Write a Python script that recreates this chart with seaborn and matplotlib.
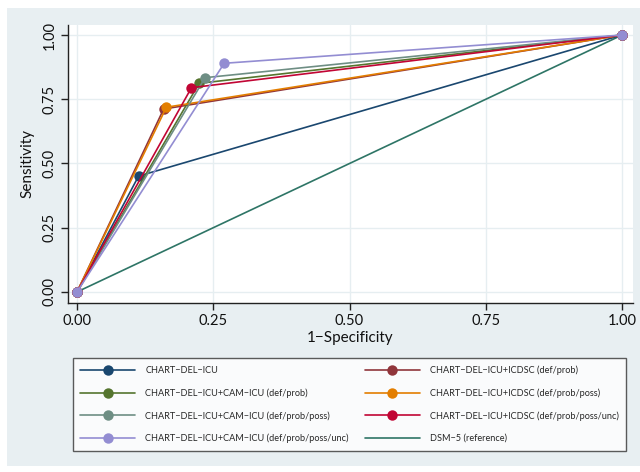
import matplotlib
matplotlib.use("Agg")
import matplotlib.pyplot as plt
import seaborn as sns
import pandas as pd
from matplotlib.patches import Rectangle
from matplotlib.lines import Line2D

labels = [
    "CHART\u2212DEL\u2212ICU",
    "CHART\u2212DEL\u2212ICU+ICDSC (def/prob)",
    "CHART\u2212DEL\u2212ICU+CAM\u2212ICU (def/prob)",
    "CHART\u2212DEL\u2212ICU+ICDSC (def/prob/poss)",
    "CHART\u2212DEL\u2212ICU+CAM\u2212ICU (def/prob/poss)",
    "CHART\u2212DEL\u2212ICU+ICDSC (def/prob/poss/unc)",
    "CHART\u2212DEL\u2212ICU+CAM\u2212ICU (def/prob/poss/unc)",
]
fpr = [0.113, 0.159, 0.224, 0.164, 0.235, 0.210, 0.270]
sens = [0.451, 0.712, 0.812, 0.719, 0.834, 0.795, 0.890]
colors = ["#1a476f", "#90353b", "#55752f", "#e37e00", "#6e8e84", "#c10534", "#938dd2"]
ref_label = "DSM\u22125 (reference)"
ref_color = "#2e7566"
ref_x = [0.0, 1.0]
ref_y = [0.0, 1.0]

sns.set_theme(style="white")
plt.rcParams["font.family"] = ["Lato", "DejaVu Sans"]

fig = plt.figure(figsize=(6.4, 4.72), dpi=100)
fig.patch.set_facecolor("white")
bg = Rectangle((7 / 640, 1 - 466 / 472), 1 - 7 / 640, (466 - 8) / 472,
               transform=fig.transFigure, facecolor="#e8eff2", edgecolor="none", zorder=-10)
fig.patches.append(bg)

ax = fig.add_axes([68 / 640, 1 - 303 / 472, (633 - 68) / 640, (303 - 25) / 472])
ax.set_facecolor("white")

# reference line
sns.lineplot(x=ref_x, y=ref_y, ax=ax, color=ref_color, linewidth=1.2, sort=False,
             estimator=None, zorder=2)
for i, (lab, fx, sy, c) in enumerate(zip(labels, fpr, sens, colors)):
    df = pd.DataFrame({"x": [0.0, fx, 1.0], "y": [0.0, sy, 1.0]})
    sns.lineplot(data=df, x="x", y="y", ax=ax, color=c, linewidth=1.2, marker="o",
                 markersize=7.5, markeredgewidth=0, sort=False, estimator=None, zorder=3 + i)

ax.set_xlim(-0.0165, 1.02)
ax.set_ylim(-0.043, 1.039)
ticks = [0.0, 0.25, 0.5, 0.75, 1.0]
ax.set_xticks(ticks)
ax.set_yticks(ticks)
ax.set_xticklabels(["0.00", "0.25", "0.50", "0.75", "1.00"])
ax.set_yticklabels(["0.00", "0.25", "0.50", "0.75", "1.00"], rotation=90, va="center")
ax.grid(True, color="#e6eef1", linewidth=1.0)
ax.set_axisbelow(True)
for s in ["top", "right"]:
    ax.spines[s].set_visible(False)
for s in ["left", "bottom"]:
    ax.spines[s].set_color("#222222")
    ax.spines[s].set_linewidth(1.0)
ax.tick_params(axis="both", which="both", direction="out", length=5, width=1,
               color="#222222", labelsize=10.5, labelcolor="#111111", pad=3,
               left=True, bottom=True)
ax.set_xlabel("1\u2212Specificity", fontsize=11, color="#111111", labelpad=2)
ax.set_ylabel("Sensitivity", fontsize=11, color="#111111", labelpad=6)

# legend (row-major order like the reference)
handles = []
for lab, c in zip(labels, colors):
    handles.append(Line2D([0], [0], color=c, lw=1.2, marker="o", markersize=7.5,
                          markeredgewidth=0, label=lab))
handles.append(Line2D([0], [0], color=ref_color, lw=1.2, label=ref_label))
order = [0, 2, 4, 6, 1, 3, 5, 7]
h2 = [handles[i] for i in order]
leg = fig.legend(handles=h2, labels=[h.get_label() for h in h2], ncol=2,
                 loc="upper left", bbox_to_anchor=(73 / 640, 1 - 358 / 472),
                 fontsize=6.6, frameon=True, fancybox=False,
                 handlelength=6.0, handletextpad=1.1, labelspacing=1.45,
                 borderpad=0.8, columnspacing=1.75, borderaxespad=0)
leg.get_frame().set_edgecolor("#333333")
leg.get_frame().set_linewidth(1.0)
leg.get_frame().set_facecolor("white")

fig.savefig("out.png", dpi=100, facecolor=fig.get_facecolor())
